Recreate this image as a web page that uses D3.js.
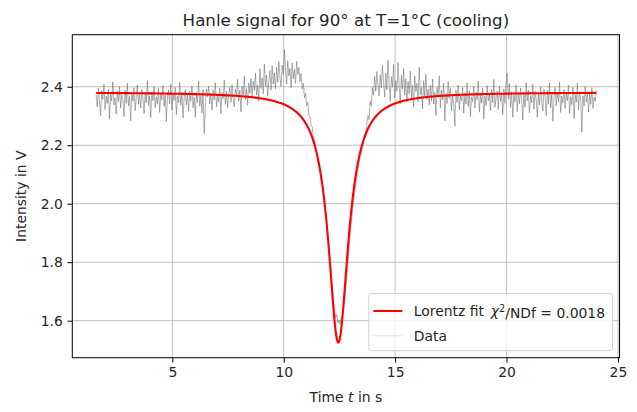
<!DOCTYPE html>
<html>
<head>
<meta charset="utf-8">
<script src="https://cdn.jsdelivr.net/npm/d3@7"></script>
<style>
  html, body { margin: 0; padding: 0; background: #fff; }
  svg { display: block; }
  text { font-family: "DejaVu Sans", sans-serif; fill: #262626; }
</style>
</head>
<body>
<svg id="chart" width="637" height="412"></svg>
<script>
// Hanle measurement: photodiode intensity sampled every 0.05 s
const timeStart = 1.58;
const timeStep = 0.05;
const intensity = [
  2.372, 2.331, 2.395, 2.348, 2.301, 2.386, 2.357, 2.409, 2.322, 2.368, 2.343, 2.392, 2.290, 2.375, 2.352, 2.417, 2.338, 2.362, 2.306, 2.384,
  2.349, 2.401, 2.327, 2.371, 2.356, 2.298, 2.388, 2.343, 2.412, 2.335, 2.367, 2.283, 2.379, 2.351, 2.397, 2.318, 2.363, 2.406, 2.340, 2.374,
  2.327, 2.391, 2.358, 2.309, 2.381, 2.345, 2.421, 2.336, 2.369, 2.295, 2.383, 2.352, 2.401, 2.329, 2.366, 2.341, 2.394, 2.312, 2.377, 2.355,
  2.404, 2.333, 2.372, 2.281, 2.361, 2.389, 2.342, 2.410, 2.321, 2.376, 2.353, 2.398, 2.304, 2.368, 2.345, 2.415, 2.337, 2.382, 2.293, 2.359,
  2.391, 2.338, 2.373, 2.316, 2.385, 2.350, 2.403, 2.328, 2.364, 2.296, 2.380, 2.347, 2.419, 2.334, 2.371, 2.311, 2.390, 2.240, 2.326, 2.393,
  2.366, 2.402, 2.341, 2.378, 2.320, 2.389, 2.355, 2.414, 2.332, 2.370, 2.348, 2.396, 2.308, 2.381, 2.359, 2.423, 2.340, 2.384, 2.329, 2.375,
  2.398, 2.346, 2.407, 2.361, 2.331, 2.392, 2.369, 2.425, 2.350, 2.388, 2.314, 2.401, 2.372, 2.436, 2.355, 2.394, 2.338, 2.412, 2.379, 2.428,
  2.364, 2.419, 2.387, 2.447, 2.372, 2.405, 2.351, 2.462, 2.394, 2.431, 2.376, 2.478, 2.401, 2.440, 2.369, 2.421, 2.455, 2.388, 2.472, 2.410,
  2.447, 2.392, 2.468, 2.415, 2.486, 2.433, 2.401, 2.474, 2.442, 2.528, 2.456, 2.409, 2.489, 2.437, 2.463, 2.396, 2.481, 2.428, 2.459, 2.412,
  2.487, 2.441, 2.466, 2.418, 2.445, 2.392, 2.412, 2.361, 2.378, 2.335, 2.348, 2.301, 2.296, 2.268, 2.262, 2.228, 2.219, 2.186, 2.168, 2.141,
  2.128, 2.117, 2.082, 2.069, 2.031, 2.012, 1.968, 1.941, 1.897, 1.852, 1.811, 1.758, 1.716, 1.668, 1.641, 1.611, 1.621, 1.592, 1.603, 1.588,
  1.612, 1.618, 1.641, 1.668, 1.705, 1.752, 1.798, 1.846, 1.891, 1.933, 1.968, 2.008, 2.035, 2.069, 2.091, 2.118, 2.139, 2.163, 2.171, 2.196,
  2.209, 2.238, 2.226, 2.271, 2.302, 2.288, 2.351, 2.334, 2.398, 2.371, 2.436, 2.385, 2.452, 2.407, 2.368, 2.441, 2.396, 2.472, 2.418, 2.364,
  2.447, 2.389, 2.491, 2.413, 2.351, 2.434, 2.398, 2.476, 2.362, 2.421, 2.385, 2.483, 2.405, 2.341, 2.439, 2.392, 2.462, 2.371, 2.427, 2.348,
  2.418, 2.376, 2.453, 2.362, 2.405, 2.331, 2.437, 2.384, 2.412, 2.349, 2.466, 2.373, 2.398, 2.325, 2.421, 2.367, 2.443, 2.356, 2.392, 2.338,
  2.405, 2.352, 2.426, 2.341, 2.381, 2.302, 2.398, 2.365, 2.437, 2.328, 2.389, 2.356, 2.412, 2.283, 2.377, 2.343, 2.419, 2.361, 2.394, 2.318,
  2.372, 2.339, 2.265, 2.388, 2.347, 2.406, 2.321, 2.369, 2.352, 2.397, 2.310, 2.378, 2.341, 2.413, 2.333, 2.386, 2.298, 2.365, 2.349, 2.402,
  2.327, 2.381, 2.356, 2.419, 2.313, 2.372, 2.344, 2.395, 2.289, 2.368, 2.336, 2.404, 2.352, 2.377, 2.318, 2.391, 2.346, 2.425, 2.330, 2.363,
  2.385, 2.322, 2.401, 2.351, 2.376, 2.305, 2.392, 2.343, 2.418, 2.446, 2.358, 2.411, 2.329, 2.383, 2.296, 2.372, 2.349, 2.407, 2.315, 2.381,
  2.342, 2.396, 2.361, 2.287, 2.378, 2.330, 2.414, 2.352, 2.389, 2.311, 2.370, 2.345, 2.408, 2.323, 2.384, 2.357, 2.296, 2.375, 2.338, 2.399,
  2.354, 2.317, 2.392, 2.366, 2.301, 2.387, 2.340, 2.413, 2.328, 2.373, 2.282, 2.362, 2.398, 2.335, 2.381, 2.349, 2.416, 2.312, 2.369, 2.344,
  2.391, 2.326, 2.377, 2.352, 2.405, 2.308, 2.366, 2.339, 2.398, 2.291, 2.374, 2.347, 2.412, 2.321, 2.383, 2.359, 2.245, 2.369, 2.334, 2.401,
  2.348, 2.382, 2.313, 2.375, 2.340, 2.397, 2.326, 2.364, 2.351, 2.388
];

// Lorentz fit result: [offset, depth, centre, half width]
const fitParams = [2.381, 0.856, 12.45, 0.55];
const fitChi2 = "0.0018";

const xTicks = [5, 10, 15, 20, 25];
const yTicks = [1.6, 1.8, 2.0, 2.2, 2.4];
const xDomain = [0.51, 25.07];
const yDomain = [1.4735, 2.578];

const svg = d3.select("#chart");
const plot = { left: 72.3, right: 619.5, top: 34.7, bottom: 357.7 };

const x = d3.scaleLinear().domain(xDomain).range([plot.left, plot.right]);
const y = d3.scaleLinear().domain(yDomain).range([plot.bottom, plot.top]);

const data = intensity.map((v, i) => ({ t: timeStart + i * timeStep, v }));

const lorentz = t => {
  const [b, a, c, g] = fitParams;
  const u = (t - c) / g;
  return b - a / (1 + u * u);
};
const tExtent = d3.extent(data, d => d.t);
const fitCurve = d3.range(0, 801).map(i => {
  const t = tExtent[0] + (tExtent[1] - tExtent[0]) * i / 800;
  return { t, v: lorentz(t) };
});

// grid
const grid = svg.append("g").attr("stroke", "#b0b0b0").attr("stroke-width", 0.8);
grid.selectAll("line.gx").data(xTicks).join("line")
  .attr("x1", d => x(d)).attr("x2", d => x(d))
  .attr("y1", plot.top).attr("y2", plot.bottom);
grid.selectAll("line.gy").data(yTicks).join("line")
  .attr("class", "gy")
  .attr("x1", plot.left).attr("x2", plot.right)
  .attr("y1", d => y(d)).attr("y2", d => y(d));

// clip to the axes box
svg.append("clipPath").attr("id", "clip").append("rect")
  .attr("x", plot.left).attr("y", plot.top)
  .attr("width", plot.right - plot.left).attr("height", plot.bottom - plot.top);

const marks = svg.append("g").attr("clip-path", "url(#clip)");

// measured trace, drawn segment by segment so overlaps darken
const segs = d3.pairs(data);
marks.append("g")
  .attr("stroke", "#6e6e6e").attr("stroke-opacity", 0.55).attr("stroke-width", 1)
  .selectAll("line").data(segs).join("line")
  .attr("x1", d => x(d[0].t)).attr("y1", d => y(d[0].v))
  .attr("x2", d => x(d[1].t)).attr("y2", d => y(d[1].v));

// fit curve
marks.append("path")
  .datum(fitCurve)
  .attr("fill", "none").attr("stroke", "#ff0000").attr("stroke-width", 2.1)
  .attr("d", d3.line().x(d => x(d.t)).y(d => y(d.v)));

// axes
const xAxis = d3.axisBottom(x).tickValues(xTicks).tickFormat(d3.format("d"))
  .tickSize(4.9).tickPadding(4.6);
const yAxis = d3.axisLeft(y).tickValues(yTicks).tickFormat(d3.format(".1f"))
  .tickSize(4.9).tickPadding(4.6);

const gx = svg.append("g").attr("transform", `translate(0,${plot.bottom})`).call(xAxis);
const gy = svg.append("g").attr("transform", `translate(${plot.left},0)`).call(yAxis);
[gx, gy].forEach(g => {
  g.select(".domain").remove();
  g.selectAll(".tick line").attr("stroke", "#000").attr("stroke-width", 1);
  g.selectAll(".tick text").attr("fill", "#262626")
    .style("font-family", "DejaVu Sans").style("font-size", "13.9px");
});
gx.selectAll(".tick text").attr("dy", "0.71em");

// spines
svg.append("rect")
  .attr("x", plot.left).attr("y", plot.top)
  .attr("width", plot.right - plot.left).attr("height", plot.bottom - plot.top)
  .attr("fill", "none").attr("stroke", "#000").attr("stroke-width", 1);

// title and axis labels
const cx = (plot.left + plot.right) / 2;
svg.append("text").attr("x", cx).attr("y", 26)
  .attr("text-anchor", "middle").style("font-size", "16.7px")
  .text("Hanle signal for 90° at T=1°C (cooling)");

const xl = svg.append("text").attr("x", cx).attr("y", 402)
  .attr("text-anchor", "middle").style("font-size", "13.9px");
xl.append("tspan").text("Time ");
xl.append("tspan").style("font-style", "italic").text("t");
xl.append("tspan").text(" in s");

svg.append("text")
  .attr("transform", `translate(25.5,${(plot.top + plot.bottom) / 2}) rotate(-90)`)
  .attr("text-anchor", "middle").style("font-size", "13.9px")
  .text("Intensity in V");

// legend (lower right)
const leg = svg.append("g");
const legRight = plot.right - 7;
const legBottom = plot.bottom - 7;
const row1 = 311, row2 = 335.7;

const box = leg.append("rect");
const t1 = leg.append("text").attr("y", row1 + 5).style("font-size", "13.9px");
t1.append("tspan").text("Lorentz fit ");
t1.append("tspan").attr("dx", 2.5).style("font-style", "italic").text("χ");
t1.append("tspan").attr("dy", "-0.42em").style("font-size", "9.7px").text("2");
t1.append("tspan").attr("dy", "0.42em").text("/NDf = " + fitChi2);
const t2 = leg.append("text").attr("y", row2 + 5).style("font-size", "13.9px").text("Data");

const tw = Math.max(t1.node().getComputedTextLength() + 2.5, t2.node().getComputedTextLength());
const textX = legRight - 7.5 - tw;
t1.attr("x", textX);
t2.attr("x", textX);
const hx2 = textX - 11.5, hx1 = hx2 - 29;
const boxLeft = hx1 - 4.5;

box.attr("x", boxLeft).attr("y", legBottom - 57.3)
  .attr("width", legRight - boxLeft).attr("height", 57.3)
  .attr("rx", 3).attr("fill", "#fff").attr("fill-opacity", 0.8)
  .attr("stroke", "#d0d0d0").attr("stroke-width", 1);

leg.append("line").attr("x1", hx1).attr("x2", hx2).attr("y1", row1).attr("y2", row1)
  .attr("stroke", "#ff0000").attr("stroke-width", 2.1);
leg.append("line").attr("x1", hx1).attr("x2", hx2).attr("y1", row2).attr("y2", row2)
  .attr("stroke", "#808080").attr("stroke-opacity", 0.15).attr("stroke-width", 1.4);
</script>
</body>
</html>
